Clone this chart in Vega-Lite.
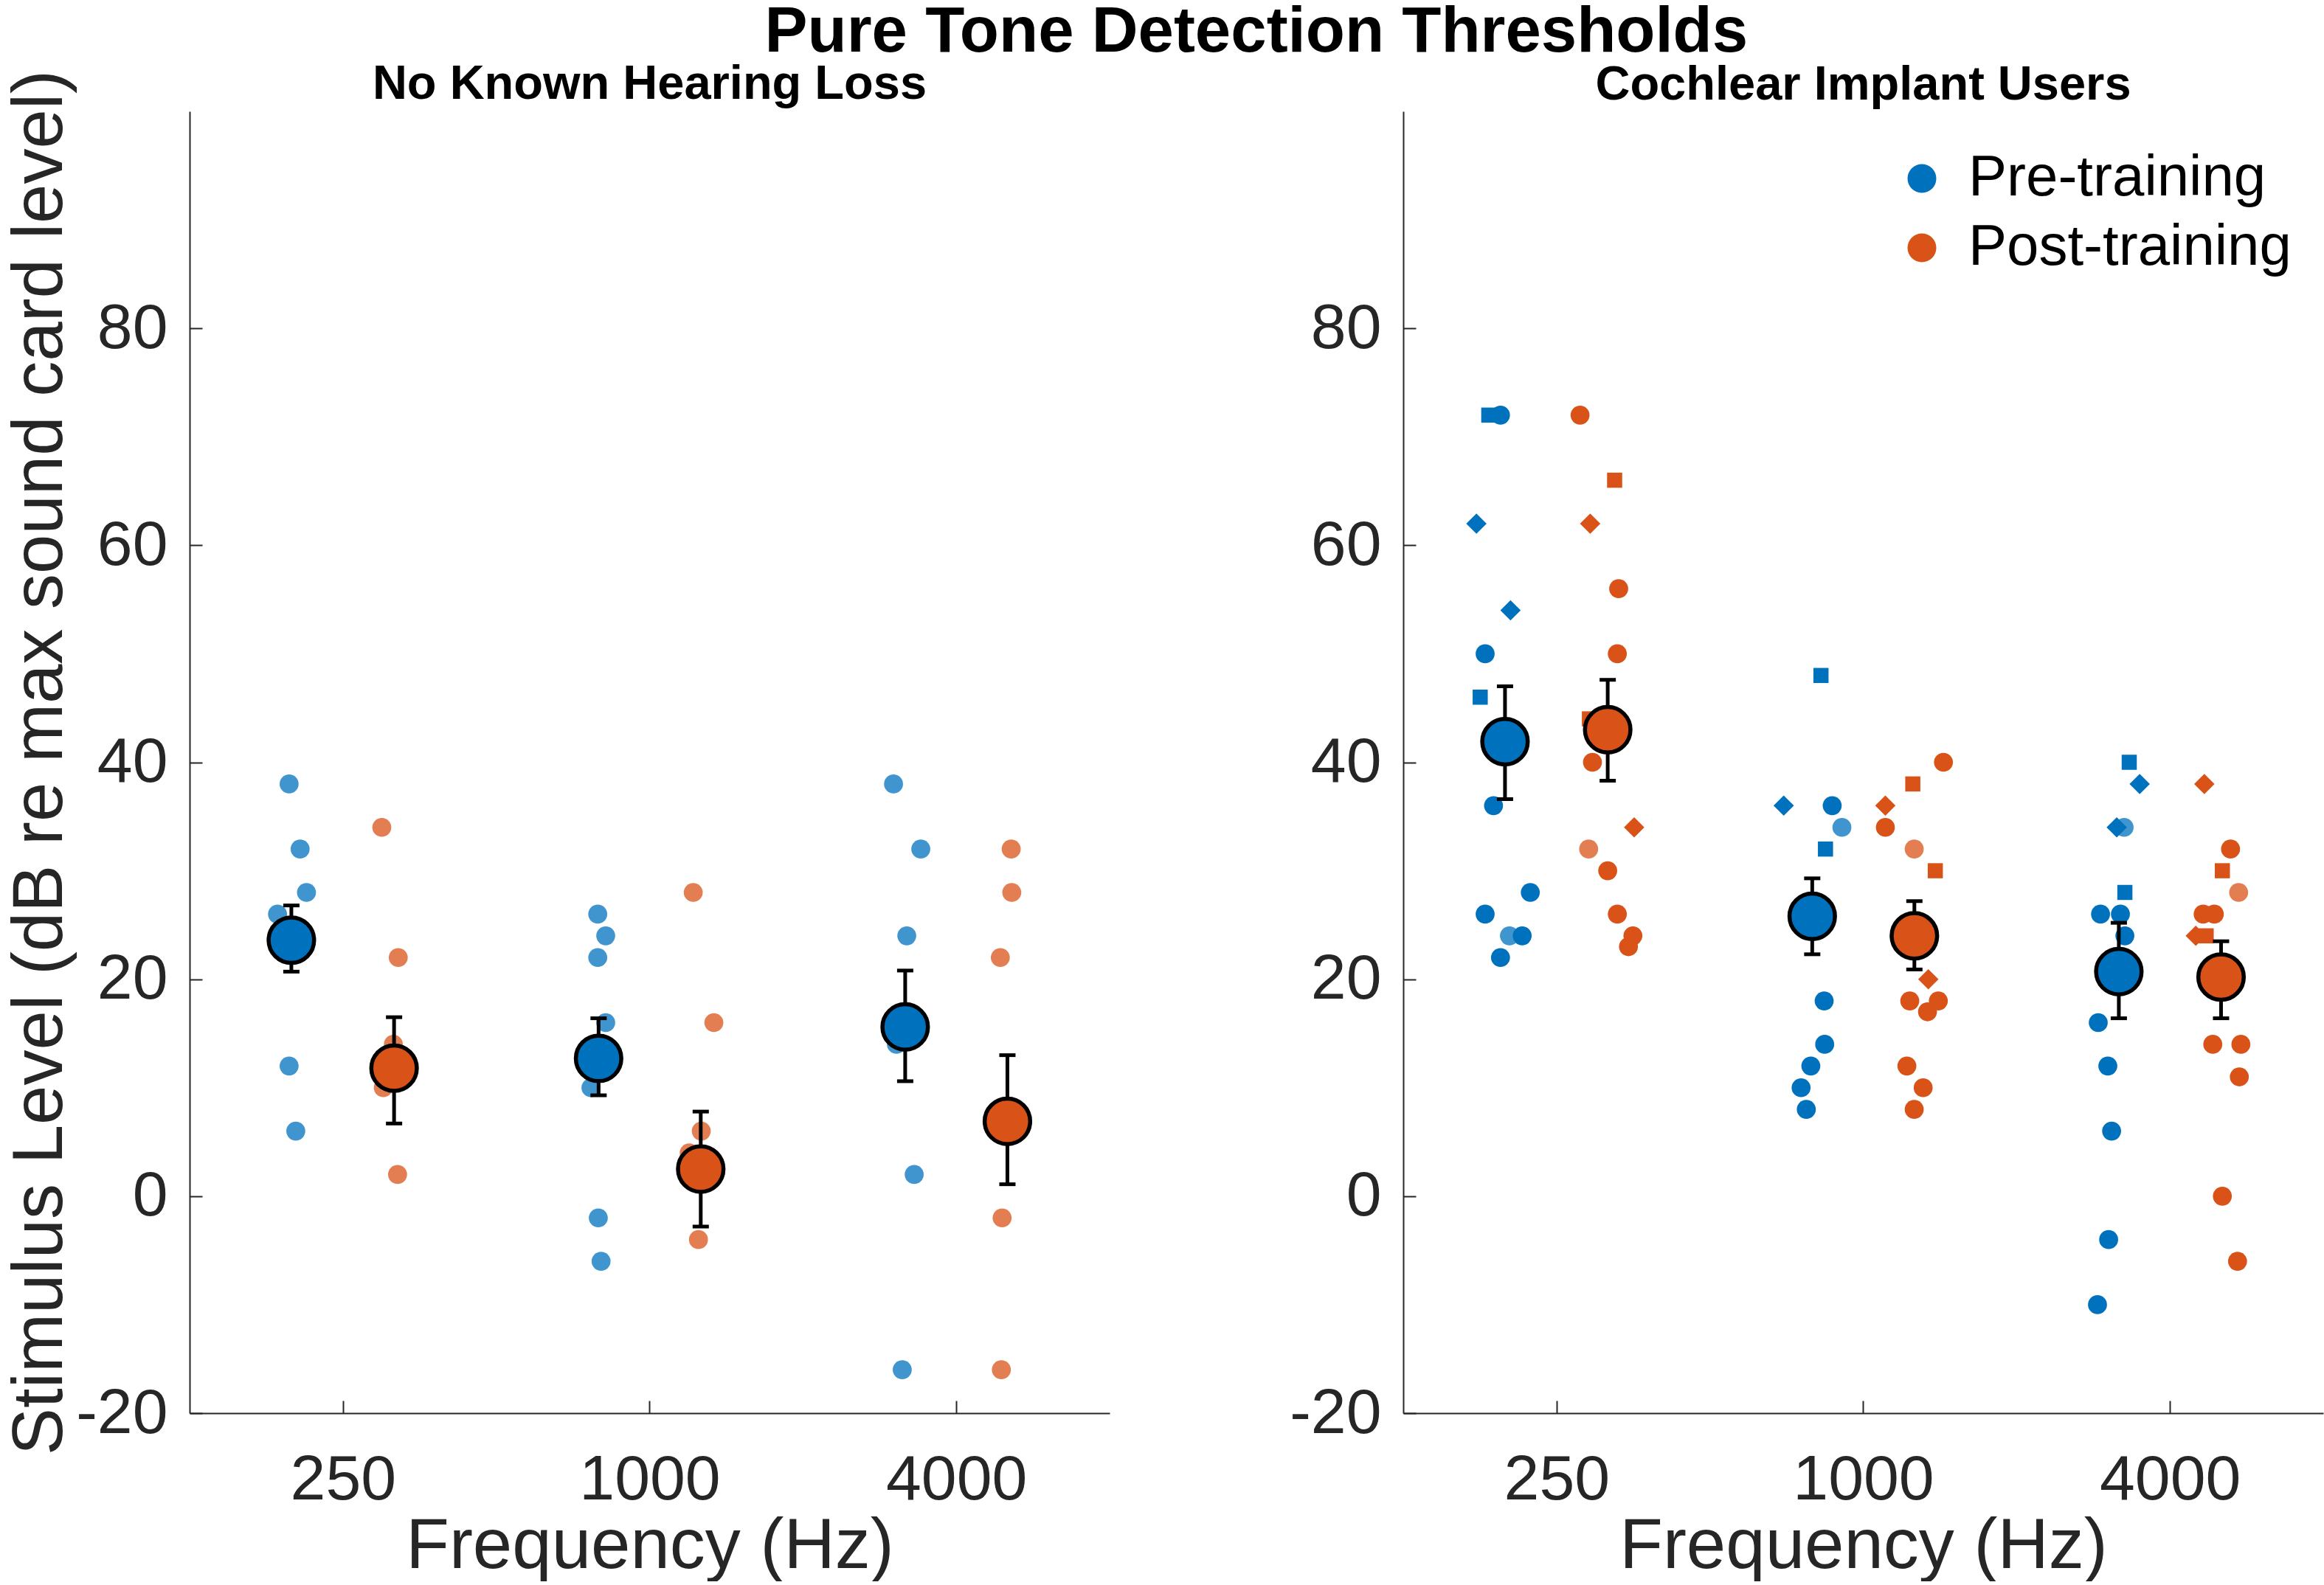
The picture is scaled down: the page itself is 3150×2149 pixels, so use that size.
{
  "$schema": "https://vega.github.io/schema/vega-lite/v6.json",
  "background": "white",
  "padding": {"left": 6, "top": 0, "right": 3, "bottom": 0},
  "title": {
    "text": "Pure Tone Detection Thresholds",
    "fontSize": 87,
    "fontWeight": "bold",
    "anchor": "middle",
    "dx": 125,
    "offset": -6,
    "color": "black"
  },
  "datasets": {
    "points": [
      {"panel": "NH", "session": "Pre-training", "freq": 250, "x": 196, "level": 38, "marker": "circle"},
      {"panel": "NH", "session": "Pre-training", "freq": 250, "x": 206, "level": 32, "marker": "circle"},
      {"panel": "NH", "session": "Pre-training", "freq": 250, "x": 212, "level": 28, "marker": "circle"},
      {"panel": "NH", "session": "Pre-training", "freq": 250, "x": 186, "level": 26, "marker": "circle"},
      {"panel": "NH", "session": "Pre-training", "freq": 250, "x": 196, "level": 12, "marker": "circle"},
      {"panel": "NH", "session": "Pre-training", "freq": 250, "x": 202, "level": 6, "marker": "circle"},
      {"panel": "NH", "session": "Post-training", "freq": 250, "x": 298, "level": 34, "marker": "circle"},
      {"panel": "NH", "session": "Post-training", "freq": 250, "x": 321, "level": 22, "marker": "circle"},
      {"panel": "NH", "session": "Post-training", "freq": 250, "x": 314, "level": 14, "marker": "circle"},
      {"panel": "NH", "session": "Post-training", "freq": 250, "x": 300, "level": 10, "marker": "circle"},
      {"panel": "NH", "session": "Post-training", "freq": 250, "x": 320, "level": 2, "marker": "circle"},
      {"panel": "NH", "session": "Pre-training", "freq": 1000, "x": 791, "level": 26, "marker": "circle"},
      {"panel": "NH", "session": "Pre-training", "freq": 1000, "x": 820, "level": 24, "marker": "circle"},
      {"panel": "NH", "session": "Pre-training", "freq": 1000, "x": 791, "level": 22, "marker": "circle"},
      {"panel": "NH", "session": "Pre-training", "freq": 1000, "x": 820, "level": 16, "marker": "circle"},
      {"panel": "NH", "session": "Pre-training", "freq": 1000, "x": 767, "level": 10, "marker": "circle"},
      {"panel": "NH", "session": "Pre-training", "freq": 1000, "x": 793, "level": -2, "marker": "circle"},
      {"panel": "NH", "session": "Pre-training", "freq": 1000, "x": 803, "level": -6, "marker": "circle"},
      {"panel": "NH", "session": "Post-training", "freq": 1000, "x": 1218, "level": 28, "marker": "circle"},
      {"panel": "NH", "session": "Post-training", "freq": 1000, "x": 1337, "level": 16, "marker": "circle"},
      {"panel": "NH", "session": "Post-training", "freq": 1000, "x": 1263, "level": 6, "marker": "circle"},
      {"panel": "NH", "session": "Post-training", "freq": 1000, "x": 1196, "level": 4, "marker": "circle"},
      {"panel": "NH", "session": "Post-training", "freq": 1000, "x": 1247, "level": -4, "marker": "circle"},
      {"panel": "NH", "session": "Pre-training", "freq": 4000, "x": 3012, "level": 38, "marker": "circle"},
      {"panel": "NH", "session": "Pre-training", "freq": 4000, "x": 3407, "level": 32, "marker": "circle"},
      {"panel": "NH", "session": "Pre-training", "freq": 4000, "x": 3198, "level": 24, "marker": "circle"},
      {"panel": "NH", "session": "Pre-training", "freq": 4000, "x": 3052, "level": 14, "marker": "circle"},
      {"panel": "NH", "session": "Pre-training", "freq": 4000, "x": 3307, "level": 2, "marker": "circle"},
      {"panel": "NH", "session": "Pre-training", "freq": 4000, "x": 3133, "level": -16, "marker": "circle"},
      {"panel": "NH", "session": "Post-training", "freq": 4000, "x": 5127, "level": 32, "marker": "circle"},
      {"panel": "NH", "session": "Post-training", "freq": 4000, "x": 5140, "level": 28, "marker": "circle"},
      {"panel": "NH", "session": "Post-training", "freq": 4000, "x": 4881, "level": 22, "marker": "circle"},
      {"panel": "NH", "session": "Post-training", "freq": 4000, "x": 4921, "level": -2, "marker": "circle"},
      {"panel": "NH", "session": "Post-training", "freq": 4000, "x": 4904, "level": -16, "marker": "circle"},

      {"panel": "CI", "session": "Pre-training", "freq": 250, "x": 184, "level": 72, "marker": "square"},
      {"panel": "CI", "session": "Pre-training", "freq": 250, "x": 194, "level": 72, "marker": "circle"},
      {"panel": "CI", "session": "Pre-training", "freq": 250, "x": 174, "level": 62, "marker": "diamond"},
      {"panel": "CI", "session": "Pre-training", "freq": 250, "x": 203, "level": 54, "marker": "diamond"},
      {"panel": "CI", "session": "Pre-training", "freq": 250, "x": 181, "level": 50, "marker": "circle"},
      {"panel": "CI", "session": "Pre-training", "freq": 250, "x": 177, "level": 46, "marker": "square"},
      {"panel": "CI", "session": "Pre-training", "freq": 250, "x": 188, "level": 36, "marker": "circle"},
      {"panel": "CI", "session": "Pre-training", "freq": 250, "x": 222, "level": 28, "marker": "circle"},
      {"panel": "CI", "session": "Pre-training", "freq": 250, "x": 181, "level": 26, "marker": "circle"},
      {"panel": "CI", "session": "Pre-training", "freq": 250, "x": 202, "level": 24, "marker": "circle", "faded": true},
      {"panel": "CI", "session": "Pre-training", "freq": 250, "x": 214, "level": 24, "marker": "circle"},
      {"panel": "CI", "session": "Pre-training", "freq": 250, "x": 194, "level": 22, "marker": "circle"},
      {"panel": "CI", "session": "Post-training", "freq": 250, "x": 278, "level": 72, "marker": "circle"},
      {"panel": "CI", "session": "Post-training", "freq": 250, "x": 325, "level": 66, "marker": "square"},
      {"panel": "CI", "session": "Post-training", "freq": 250, "x": 291, "level": 62, "marker": "diamond"},
      {"panel": "CI", "session": "Post-training", "freq": 250, "x": 331, "level": 56, "marker": "circle"},
      {"panel": "CI", "session": "Post-training", "freq": 250, "x": 329, "level": 50, "marker": "circle"},
      {"panel": "CI", "session": "Post-training", "freq": 250, "x": 290, "level": 44, "marker": "square"},
      {"panel": "CI", "session": "Post-training", "freq": 250, "x": 294, "level": 40, "marker": "circle"},
      {"panel": "CI", "session": "Post-training", "freq": 250, "x": 355, "level": 34, "marker": "diamond"},
      {"panel": "CI", "session": "Post-training", "freq": 250, "x": 289, "level": 32, "marker": "circle", "faded": true},
      {"panel": "CI", "session": "Post-training", "freq": 250, "x": 315, "level": 30, "marker": "circle"},
      {"panel": "CI", "session": "Post-training", "freq": 250, "x": 329, "level": 26, "marker": "circle"},
      {"panel": "CI", "session": "Post-training", "freq": 250, "x": 353, "level": 24, "marker": "circle"},
      {"panel": "CI", "session": "Post-training", "freq": 250, "x": 346, "level": 23, "marker": "circle"},
      {"panel": "CI", "session": "Pre-training", "freq": 1000, "x": 826, "level": 48, "marker": "square"},
      {"panel": "CI", "session": "Pre-training", "freq": 1000, "x": 698, "level": 36, "marker": "diamond"},
      {"panel": "CI", "session": "Pre-training", "freq": 1000, "x": 869, "level": 36, "marker": "circle"},
      {"panel": "CI", "session": "Pre-training", "freq": 1000, "x": 908, "level": 34, "marker": "circle", "faded": true},
      {"panel": "CI", "session": "Pre-training", "freq": 1000, "x": 843, "level": 32, "marker": "square"},
      {"panel": "CI", "session": "Pre-training", "freq": 1000, "x": 838, "level": 18, "marker": "circle"},
      {"panel": "CI", "session": "Pre-training", "freq": 1000, "x": 840, "level": 14, "marker": "circle"},
      {"panel": "CI", "session": "Pre-training", "freq": 1000, "x": 789, "level": 12, "marker": "circle"},
      {"panel": "CI", "session": "Pre-training", "freq": 1000, "x": 755, "level": 10, "marker": "circle"},
      {"panel": "CI", "session": "Pre-training", "freq": 1000, "x": 773, "level": 8, "marker": "circle"},
      {"panel": "CI", "session": "Post-training", "freq": 1000, "x": 1437, "level": 40, "marker": "circle"},
      {"panel": "CI", "session": "Post-training", "freq": 1000, "x": 1251, "level": 38, "marker": "square"},
      {"panel": "CI", "session": "Post-training", "freq": 1000, "x": 1105, "level": 36, "marker": "diamond"},
      {"panel": "CI", "session": "Post-training", "freq": 1000, "x": 1105, "level": 34, "marker": "circle"},
      {"panel": "CI", "session": "Post-training", "freq": 1000, "x": 1259, "level": 32, "marker": "circle", "faded": true},
      {"panel": "CI", "session": "Post-training", "freq": 1000, "x": 1385, "level": 30, "marker": "square"},
      {"panel": "CI", "session": "Post-training", "freq": 1000, "x": 1342, "level": 20, "marker": "diamond"},
      {"panel": "CI", "session": "Post-training", "freq": 1000, "x": 1234, "level": 18, "marker": "circle"},
      {"panel": "CI", "session": "Post-training", "freq": 1000, "x": 1404, "level": 18, "marker": "circle"},
      {"panel": "CI", "session": "Post-training", "freq": 1000, "x": 1337, "level": 17, "marker": "circle"},
      {"panel": "CI", "session": "Post-training", "freq": 1000, "x": 1218, "level": 12, "marker": "circle"},
      {"panel": "CI", "session": "Post-training", "freq": 1000, "x": 1311, "level": 10, "marker": "circle"},
      {"panel": "CI", "session": "Post-training", "freq": 1000, "x": 1259, "level": 8, "marker": "circle"},
      {"panel": "CI", "session": "Pre-training", "freq": 4000, "x": 3328, "level": 40, "marker": "square"},
      {"panel": "CI", "session": "Pre-training", "freq": 4000, "x": 3489, "level": 38, "marker": "diamond"},
      {"panel": "CI", "session": "Pre-training", "freq": 4000, "x": 3252, "level": 34, "marker": "circle", "faded": true},
      {"panel": "CI", "session": "Pre-training", "freq": 4000, "x": 3145, "level": 34, "marker": "diamond"},
      {"panel": "CI", "session": "Pre-training", "freq": 4000, "x": 3263, "level": 28, "marker": "square"},
      {"panel": "CI", "session": "Pre-training", "freq": 4000, "x": 2923, "level": 26, "marker": "circle"},
      {"panel": "CI", "session": "Pre-training", "freq": 4000, "x": 3198, "level": 26, "marker": "circle"},
      {"panel": "CI", "session": "Pre-training", "freq": 4000, "x": 3263, "level": 24, "marker": "circle"},
      {"panel": "CI", "session": "Pre-training", "freq": 4000, "x": 2893, "level": 16, "marker": "circle"},
      {"panel": "CI", "session": "Pre-training", "freq": 4000, "x": 3021, "level": 12, "marker": "circle"},
      {"panel": "CI", "session": "Pre-training", "freq": 4000, "x": 3073, "level": 6, "marker": "circle"},
      {"panel": "CI", "session": "Pre-training", "freq": 4000, "x": 3032, "level": -4, "marker": "circle"},
      {"panel": "CI", "session": "Pre-training", "freq": 4000, "x": 2883, "level": -10, "marker": "circle"},
      {"panel": "CI", "session": "Post-training", "freq": 4000, "x": 4673, "level": 38, "marker": "diamond"},
      {"panel": "CI", "session": "Post-training", "freq": 4000, "x": 5261, "level": 32, "marker": "circle"},
      {"panel": "CI", "session": "Post-training", "freq": 4000, "x": 5070, "level": 30, "marker": "square"},
      {"panel": "CI", "session": "Post-training", "freq": 4000, "x": 5457, "level": 28, "marker": "circle", "faded": true},
      {"panel": "CI", "session": "Post-training", "freq": 4000, "x": 4648, "level": 26, "marker": "circle"},
      {"panel": "CI", "session": "Post-training", "freq": 4000, "x": 4889, "level": 26, "marker": "circle"},
      {"panel": "CI", "session": "Post-training", "freq": 4000, "x": 4712, "level": 24, "marker": "square"},
      {"panel": "CI", "session": "Post-training", "freq": 4000, "x": 4496, "level": 24, "marker": "diamond"},
      {"panel": "CI", "session": "Post-training", "freq": 4000, "x": 4855, "level": 14, "marker": "circle"},
      {"panel": "CI", "session": "Post-training", "freq": 4000, "x": 5513, "level": 14, "marker": "circle"},
      {"panel": "CI", "session": "Post-training", "freq": 4000, "x": 5474, "level": 11, "marker": "circle"},
      {"panel": "CI", "session": "Post-training", "freq": 4000, "x": 5070, "level": 0, "marker": "circle"},
      {"panel": "CI", "session": "Post-training", "freq": 4000, "x": 5430, "level": -6, "marker": "circle"}
    ],
    "means": [
      {"panel": "NH", "session": "Pre-training", "freq": 250, "x": 198, "mean": 23.6, "lo": 20.7, "hi": 26.8},
      {"panel": "NH", "session": "Post-training", "freq": 250, "x": 315, "mean": 11.8, "lo": 6.7, "hi": 16.5},
      {"panel": "NH", "session": "Pre-training", "freq": 1000, "x": 794, "mean": 12.7, "lo": 9.3, "hi": 16.4},
      {"panel": "NH", "session": "Post-training", "freq": 1000, "x": 1260, "mean": 2.5, "lo": -2.8, "hi": 7.8},
      {"panel": "NH", "session": "Pre-training", "freq": 4000, "x": 3175, "mean": 15.6, "lo": 10.6, "hi": 20.8},
      {"panel": "NH", "session": "Post-training", "freq": 4000, "x": 5040, "mean": 6.9, "lo": 1.1, "hi": 13.0},
      {"panel": "CI", "session": "Pre-training", "freq": 250, "x": 198, "mean": 41.9, "lo": 36.6, "hi": 47.0},
      {"panel": "CI", "session": "Post-training", "freq": 250, "x": 315, "mean": 43.0, "lo": 38.3, "hi": 47.6},
      {"panel": "CI", "session": "Pre-training", "freq": 1000, "x": 794, "mean": 25.8, "lo": 22.3, "hi": 29.3},
      {"panel": "CI", "session": "Post-training", "freq": 1000, "x": 1260, "mean": 24.0, "lo": 20.9, "hi": 27.2},
      {"panel": "CI", "session": "Pre-training", "freq": 4000, "x": 3175, "mean": 20.7, "lo": 16.4, "hi": 25.2},
      {"panel": "CI", "session": "Post-training", "freq": 4000, "x": 5040, "mean": 20.2, "lo": 16.4, "hi": 23.5}
    ]
  },
  "config": {
    "font": "Liberation Sans",
    "view": {"stroke": null},
    "axis": {
      "grid": false,
      "labelFontSize": 86,
      "titleFontSize": 96,
      "titleFontWeight": "normal",
      "labelColor": "#262626",
      "titleColor": "#262626",
      "labelLimit": 0,
      "domainColor": "#262626",
      "domainWidth": 2,
      "tickColor": "#262626",
      "tickWidth": 2,
      "tickSize": -17
    },
    "axisX": {"labelPadding": 65, "titlePadding": 0},
    "axisY": {"labelPadding": 47, "titlePadding": -1},
    "title": {"color": "black"}
  },
  "bounds": "flush",
  "spacing": 398,
  "resolve": {
    "scale": {"color": "independent", "shape": "independent"},
    "legend": {"color": "independent", "shape": "independent"}
  },
  "hconcat": [
    {
      "width": 1247,
      "height": 1765,
      "title": {"text": "No Known Hearing Loss", "fontSize": 65, "fontWeight": "bold", "anchor": "middle", "frame": "group", "baseline": "bottom", "offset": -119},
      "layer": [
        {
          "data": {"name": "points"},
          "transform": [{"filter": "datum.panel == 'NH'"}],
          "mark": {"type": "point", "filled": true, "opacity": 0.75, "strokeWidth": 0},
          "encoding": {
            "x": {"field": "x", "type": "quantitative", "scale": {"type": "log", "base": 2, "domain": [125, 8000], "nice": false},
                  "axis": {"values": [250, 1000, 4000], "format": "d", "title": "Frequency (Hz)"}},
            "y": {"field": "level", "type": "quantitative", "scale": {"domain": [-20, 100], "nice": false, "zero": false},
                  "axis": {"values": [-20, 0, 20, 40, 60, 80], "labelExpr": "'' + datum.value", "title": "Stimulus Level (dB re max sound card level)"}},
            "color": {"field": "session", "type": "nominal", "scale": {"domain": ["Pre-training", "Post-training"], "range": ["#0072BD", "#D95319"]}, "legend": null},
            "shape": {"field": "marker", "type": "nominal", "scale": {"domain": ["circle", "square", "diamond"], "range": ["circle", "square", "diamond"]}, "legend": null},
            "size": {"condition": [{"test": "datum.marker === 'square'", "value": 420}, {"test": "datum.marker === 'diamond'", "value": 760}], "value": 660}
          }
        },
        {
          "data": {"name": "means"},
          "transform": [{"filter": "datum.panel == 'NH'"}],
          "mark": {"type": "rule", "color": "black", "strokeWidth": 5},
          "encoding": {
            "x": {"field": "x", "type": "quantitative"},
            "y": {"field": "lo", "type": "quantitative"},
            "y2": {"field": "hi"}
          }
        },
        {
          "data": {"name": "means"},
          "transform": [{"filter": "datum.panel == 'NH'"}],
          "mark": {"type": "tick", "orient": "horizontal", "color": "black", "thickness": 5, "size": 22, "opacity": 1},
          "encoding": {
            "x": {"field": "x", "type": "quantitative"},
            "y": {"field": "lo", "type": "quantitative"}
          }
        },
        {
          "data": {"name": "means"},
          "transform": [{"filter": "datum.panel == 'NH'"}],
          "mark": {"type": "tick", "orient": "horizontal", "color": "black", "thickness": 5, "size": 22, "opacity": 1},
          "encoding": {
            "x": {"field": "x", "type": "quantitative"},
            "y": {"field": "hi", "type": "quantitative"}
          }
        },
        {
          "data": {"name": "means"},
          "transform": [{"filter": "datum.panel == 'NH'"}],
          "mark": {"type": "point", "filled": true, "size": 3800, "stroke": "black", "strokeWidth": 5.5, "opacity": 1, "shape": "circle"},
          "encoding": {
            "x": {"field": "x", "type": "quantitative"},
            "y": {"field": "mean", "type": "quantitative"},
            "color": {"field": "session", "type": "nominal", "legend": null}
          }
        }
      ]
    },
    {
      "width": 1247,
      "height": 1765,
      "title": {"text": "Cochlear Implant Users", "fontSize": 65, "fontWeight": "bold", "anchor": "middle", "frame": "group", "baseline": "bottom", "offset": -63},
      "layer": [
        {
          "data": {"name": "points"},
          "transform": [{"filter": "datum.panel == 'CI'"}],
          "mark": {"type": "point", "filled": true, "strokeWidth": 0},
          "encoding": {
            "x": {"field": "x", "type": "quantitative", "scale": {"type": "log", "base": 2, "domain": [125, 8000], "nice": false},
                  "axis": {"values": [250, 1000, 4000], "format": "d", "title": "Frequency (Hz)"}},
            "y": {"field": "level", "type": "quantitative", "scale": {"domain": [-20, 100], "nice": false, "zero": false},
                  "axis": {"values": [-20, 0, 20, 40, 60, 80], "labelExpr": "'' + datum.value", "title": null}},
            "color": {"field": "session", "type": "nominal", "scale": {"domain": ["Pre-training", "Post-training"], "range": ["#0072BD", "#D95319"]},
                      "legend": {"title": null, "orient": "none", "legendX": 664, "legendY": 52, "padding": 0, "symbolType": "circle", "symbolSize": 1520,
                                 "symbolStrokeWidth": 0, "symbolOpacity": 1, "labelFontSize": 78, "labelLimit": 0, "labelColor": "black", "labelOffset": 24, "rowPadding": 16}},
            "shape": {"field": "marker", "type": "nominal", "scale": {"domain": ["circle", "square", "diamond"], "range": ["circle", "square", "diamond"]}, "legend": null},
            "size": {"condition": [{"test": "datum.marker === 'square'", "value": 420}, {"test": "datum.marker === 'diamond'", "value": 760}], "value": 660},
            "opacity": {"condition": {"test": "datum.faded === true", "value": 0.75}, "value": 1}
          }
        },
        {
          "data": {"name": "means"},
          "transform": [{"filter": "datum.panel == 'CI'"}],
          "mark": {"type": "rule", "color": "black", "strokeWidth": 5},
          "encoding": {
            "x": {"field": "x", "type": "quantitative"},
            "y": {"field": "lo", "type": "quantitative"},
            "y2": {"field": "hi"}
          }
        },
        {
          "data": {"name": "means"},
          "transform": [{"filter": "datum.panel == 'CI'"}],
          "mark": {"type": "tick", "orient": "horizontal", "color": "black", "thickness": 5, "size": 22, "opacity": 1},
          "encoding": {
            "x": {"field": "x", "type": "quantitative"},
            "y": {"field": "lo", "type": "quantitative"}
          }
        },
        {
          "data": {"name": "means"},
          "transform": [{"filter": "datum.panel == 'CI'"}],
          "mark": {"type": "tick", "orient": "horizontal", "color": "black", "thickness": 5, "size": 22, "opacity": 1},
          "encoding": {
            "x": {"field": "x", "type": "quantitative"},
            "y": {"field": "hi", "type": "quantitative"}
          }
        },
        {
          "data": {"name": "means"},
          "transform": [{"filter": "datum.panel == 'CI'"}],
          "mark": {"type": "point", "filled": true, "size": 3800, "stroke": "black", "strokeWidth": 5.5, "opacity": 1, "shape": "circle"},
          "encoding": {
            "x": {"field": "x", "type": "quantitative"},
            "y": {"field": "mean", "type": "quantitative"},
            "color": {"field": "session", "type": "nominal"}
          }
        }
      ]
    }
  ]
}
